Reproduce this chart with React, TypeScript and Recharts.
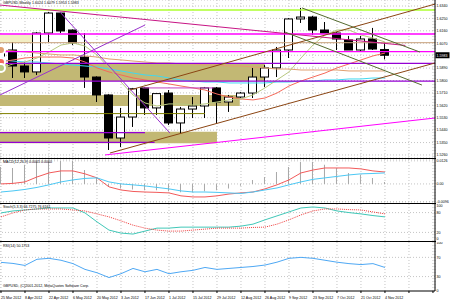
import React from 'react';
import { ComposedChart, Bar, Line, XAxis, YAxis, CartesianGrid, ReferenceLine, ReferenceArea } from 'recharts';

// weekly GBPUSD candles, one per week from 25 Mar 2012
const opens = [1.5891, 1.6021, 1.5905, 1.5862, 1.6144, 1.6289, 1.6166, 1.5970, 1.5825, 1.5695, 1.5383, 1.5535, 1.5746, 1.5601, 1.5709, 1.5492, 1.5593, 1.5615, 1.5746, 1.5644, 1.5680, 1.5709, 1.5825, 1.5891, 1.6021, 1.6246, 1.6260, 1.6166, 1.6144, 1.6094, 1.6021, 1.6101, 1.6024];
const highs = [1.6036, 1.6079, 1.5934, 1.6150, 1.6297, 1.6297, 1.6170, 1.6144, 1.5830, 1.5700, 1.5601, 1.5746, 1.5750, 1.5709, 1.5731, 1.5608, 1.5680, 1.5753, 1.5753, 1.5695, 1.5717, 1.5891, 1.5912, 1.6043, 1.6253, 1.6326, 1.6268, 1.6224, 1.6150, 1.6123, 1.6123, 1.6181, 1.6079];
const lows = [1.5876, 1.5818, 1.5818, 1.5840, 1.6079, 1.6144, 1.6057, 1.5746, 1.5644, 1.5296, 1.5318, 1.5463, 1.5550, 1.5550, 1.5477, 1.5419, 1.5528, 1.5528, 1.5492, 1.5572, 1.5673, 1.5673, 1.5753, 1.5825, 1.5963, 1.6217, 1.6130, 1.6144, 1.6021, 1.6021, 1.6007, 1.6021, 1.5953];
const closes = [1.6007, 1.5905, 1.5862, 1.6144, 1.6289, 1.6159, 1.6072, 1.5825, 1.5695, 1.5383, 1.5535, 1.5740, 1.5601, 1.5705, 1.5492, 1.5593, 1.5615, 1.5746, 1.5644, 1.5680, 1.5709, 1.5825, 1.5891, 1.6021, 1.6246, 1.6260, 1.6166, 1.6144, 1.6101, 1.6021, 1.6101, 1.6028, 1.5983];

// moving averages on the price chart
const maFast = [1.5891, 1.5920, 1.5934, 1.5963, 1.6007, 1.6057, 1.6072, 1.6050, 1.5985, 1.5891, 1.5789, 1.5695, 1.5637, 1.5615, 1.5630, 1.5630, 1.5622, 1.5630, 1.5644, 1.5659, 1.5666, 1.5695, 1.5746, 1.5804, 1.5862, 1.5963, 1.6057, 1.6130, 1.6166, 1.6166, 1.6130, 1.6108, 1.6079];
const maRed = [1.5934, 1.5949, 1.5963, 1.5970, 1.5970, 1.5970, 1.5963, 1.5934, 1.5891, 1.5862, 1.5840, 1.5818, 1.5804, 1.5789, 1.5775, 1.5760, 1.5746, 1.5731, 1.5702, 1.5680, 1.5666, 1.5659, 1.5673, 1.5709, 1.5760, 1.5796, 1.5825, 1.5854, 1.5891, 1.5920, 1.5949, 1.5978, 1.5999];
const maTan = [1.6021, 1.6014, 1.6007, 1.5999, 1.5992, 1.5985, 1.5985, 1.5978, 1.5970, 1.5956, 1.5949, 1.5941, 1.5934, 1.5927, 1.5927, 1.5920, 1.5920, 1.5912, 1.5912, 1.5905, 1.5905, 1.5898, 1.5891, 1.5883, 1.5883, 1.5876, 1.5876, 1.5876, 1.5876, 1.5869, 1.5869, 1.5869, 1.5869];
const maCyan = [1.5949, 1.5941, 1.5934, 1.5934, 1.5927, 1.5920, 1.5912, 1.5905, 1.5898, 1.5883, 1.5869, 1.5854, 1.5840, 1.5833, 1.5818, 1.5804, 1.5796, 1.5789, 1.5789, 1.5782, 1.5782, 1.5782, 1.5782, 1.5789, 1.5789, 1.5796, 1.5796, 1.5804, 1.5804, 1.5811, 1.5811, 1.5818, 1.5818];

// indicators
const macdHist = [0.0093, 0.0087, 0.0104, 0.0120, 0.0120, 0.0125, 0.0125, 0.0076, 0.0038, -0.0015, -0.0025, -0.0030, -0.0035, -0.0035, -0.0040, -0.0045, -0.0045, -0.0040, -0.0035, -0.0025, -0.0010, 0.0022, 0.0038, 0.0065, 0.0093, 0.0120, 0.0120, 0.0104, 0.0087, 0.0060, 0.0049, 0.0033, 0.0011];
const macdRed = [0.0000, 0.0003, 0.0011, 0.0038, 0.0060, 0.0071, 0.0071, 0.0055, 0.0033, -0.0016, -0.0033, -0.0041, -0.0044, -0.0046, -0.0049, -0.0065, -0.0071, -0.0071, -0.0065, -0.0055, -0.0049, -0.0044, -0.0027, -0.0005, 0.0022, 0.0060, 0.0076, 0.0087, 0.0087, 0.0087, 0.0082, 0.0071, 0.0065];
const macdCyan = [-0.0044, -0.0038, -0.0030, -0.0019, -0.0005, 0.0011, 0.0022, 0.0030, 0.0033, 0.0011, 0.0000, -0.0005, -0.0011, -0.0019, -0.0027, -0.0038, -0.0044, -0.0044, -0.0046, -0.0049, -0.0052, -0.0044, -0.0033, -0.0022, -0.0005, 0.0011, 0.0025, 0.0033, 0.0041, 0.0049, 0.0055, 0.0057, 0.0060];
const stochMain = [79, 85, 88, 91, 94, 94, 94, 79, 52, 27, 18, 15, 24, 33, 33, 36, 36, 36, 36, 36, 39, 45, 58, 70, 82, 94, 97, 94, 85, 80, 76, 71, 67];
const stochSignal = [67, 79, 88, 91, 91, 91, 88, 85, 76, 67, 55, 42, 33, 27, 24, 24, 27, 30, 33, 33, 33, 35, 36, 45, 58, 73, 85, 91, 91, 89, 88, 82, 76];
const rsi = [59.6, 57.4, 53.2, 66, 68, 64, 57, 45, 38, 28, 36, 47, 40, 45, 36, 40, 43, 49, 45, 47, 49, 51, 54, 60, 68, 70, 68, 64, 60, 57, 55, 57, 49];

const dateLabels = ['25 Mar 2012', '8 Apr 2012', '22 Apr 2012', '6 May 2012', '20 May 2012', '3 Jun 2012', '17 Jun 2012', '1 Jul 2012', '15 Jul 2012', '29 Jul 2012', '12 Aug 2012', '26 Aug 2012', '9 Sep 2012', '23 Sep 2012', '7 Oct 2012', '21 Oct 2012', '4 Nov 2012'];
const priceTicks = [1.634, 1.625, 1.616, 1.607, 1.5983, 1.589, 1.58, 1.571, 1.562, 1.553, 1.544, 1.535, 1.526];
const lastPrice = 1.5983;

// horizontal levels [price, colour, from bar, to bar, width]
const levels: [number, string, number, number, number][] = [
  [1.6311, '#adff2f', -0.1, 36.2, 1.5],
  [1.6137, '#ff00ff', -0.1, 36.2, 1.3],
  [1.6074, '#c8a07a', -0.1, 36.2, 1],
  [1.6009, '#ff00ff', -0.1, 36.2, 1.3],
  [1.5924, '#9400d3', -0.1, 36.2, 1.3],
  [1.5796, '#9400d3', -0.1, 36.2, 1.3],
  [1.5560, '#808000', -0.1, 17, 1],
  [1.5746, '#c040c0', 11.8, 17.7, 1],
  [1.5422, '#9400d3', -0.1, 12, 1.3],
  [1.5352, '#9400d3', -0.1, 12.8, 1.3],
];
// zones [from bar, to bar, top, bottom, colour]
const zones: [number, number, number, number, string][] = [
  [-0.1, 2.7, 1.6130, 1.6072, '#f3eec4'],
  [-0.1, 22, 1.5927, 1.5796, '#c2b874'],
  [-0.1, 19.9, 1.5695, 1.5615, '#c2b874'],
  [-0.1, 18, 1.5429, 1.5345, '#c2b874'],
];
// trendlines [bar1, price1, bar2, price2, colour]
const trends: [number, number, number, number, string][] = [
  [-0.08, 1.6347, 33.7, 1.6054, '#c71585'],
  [4.92, 1.6296, 14.08, 1.5419, '#9932cc'],
  [-0.08, 1.5695, 12, 1.6202, '#9932cc'],
  [9.08, 1.5274, 36.17, 1.5927, '#8b4513'],
  [10.75, 1.5731, 36.17, 1.6354, '#8b4513'],
  [8.67, 1.5260, 36.17, 1.5528, '#ff00ff'],
  [25.08, 1.6326, 34.92, 1.6006, '#556b2f'],
  [23.67, 1.6151, 35.08, 1.5767, '#556b2f'],
];

const rows = opens.map((o, i) => ({
  i, o, h: highs[i], l: lows[i], c: closes[i], range: [lows[i], highs[i]],
  fast: maFast[i], red: maRed[i], tan: maTan[i], cyan: maCyan[i],
  hist: macdHist[i], mred: macdRed[i], mcyan: macdCyan[i],
  k: stochMain[i], d: stochSignal[i], rsi: rsi[i],
}));

const xDomain = [-0.083, 36.17];
const xTicks = Array.from({ length: 19 }, (_, n) => n * 2);
const font = 'Liberation Sans';
const fs = 3.6;
const grid = <CartesianGrid stroke="#c4c4c4" strokeDasharray="1 2" />;

const Candle = (props: any) => {
  const { x, y, width, height, payload } = props;
  const { o, h, l, c } = payload;
  const k = height / (h - l || 1);
  const top = y + (h - Math.max(o, c)) * k;
  const bot = y + (h - Math.min(o, c)) * k;
  const cx = Math.round(x + width / 2) + 0.5;
  return (
    <g>
      <line x1={cx} x2={cx} y1={y} y2={y + height} stroke="#000" />
      <rect x={cx - 4} y={top} width={8} height={Math.max(bot - top, 1)} fill={c >= o ? '#fff' : '#000'} stroke="#000" />
    </g>
  );
};

const axisTick = (fmt: (v: number) => string) => (props: any) => {
  const { x, y, payload } = props;
  return <text x={x + 1.5} y={y + 1.3} fontSize={fs} fontFamily={font} fill="#000">{fmt(payload.value)}</text>;
};

const PriceTick = (props: any) => {
  const { x, y, payload } = props;
  const v = payload.value;
  if (v === lastPrice) {
    return (
      <g>
        <rect x={x + 0.5} y={y - 3} width={14} height={6} fill="#000" />
        <text x={x + 1.5} y={y + 1.3} fontSize={fs} fontFamily={font} fill="#fff">{v.toFixed(4)}</text>
      </g>
    );
  }
  return <text x={x + 1.5} y={y + 1.3} fontSize={fs} fontFamily={font} fill="#000">{v.toFixed(4)}</text>;
};

const title = (text: string, top: number) => (
  <div style={{ position: 'absolute', left: 3, top, fontSize: fs, fontFamily: font, color: '#000', whiteSpace: 'nowrap', lineHeight: '5px' }}>{text}</div>
);

const sep = (top: number) => <div style={{ position: 'absolute', left: 0, top, width: 436, height: 1, background: '#000' }} />;

const yAxisProps = { orientation: 'right' as const, width: 15, interval: 0, allowDataOverflow: true, axisLine: { stroke: '#000' }, tickLine: false, tickSize: 0, tickMargin: 0 };

export default function App() {
  const margin = { top: 0, right: 0, left: 0, bottom: 0 };
  return (
    <div style={{ position: 'absolute', left: 0, top: 0, width: 450, height: 300, background: '#fff', overflow: 'hidden' }}>
      <div style={{ position: 'absolute', top: 0, left: 0 }}>
        <ComposedChart width={450} height={158} data={rows} margin={margin}>
          {grid}
          <XAxis dataKey="i" type="number" domain={xDomain} ticks={xTicks} interval={0} allowDataOverflow hide />
          <YAxis {...yAxisProps} domain={[1.5238, 1.63835]} ticks={priceTicks} tick={PriceTick} />
          {zones.map(([x1, x2, y1, y2, col], n) => (
            <ReferenceArea key={'z' + n} x1={x1} x2={x2} y1={y1} y2={y2} fill={col} fillOpacity={1} stroke="none" ifOverflow="hidden" />
          ))}
          <Line dataKey="tan" stroke="#e0a070" dot={false} isAnimationActive={false} />
          <Line dataKey="cyan" stroke="#40d8f0" dot={false} isAnimationActive={false} />
          <Line dataKey="red" stroke="#f56a5a" dot={false} isAnimationActive={false} />
          <Line dataKey="fast" stroke="#b8c880" dot={false} isAnimationActive={false} />
          <Bar dataKey="range" barSize={9} shape={Candle} isAnimationActive={false} />
          {levels.map(([p, col, a, b, w], n) => (
            <ReferenceLine key={'l' + n} segment={[{ x: a, y: p }, { x: b, y: p }]} stroke={col} strokeWidth={w} ifOverflow="hidden" />
          ))}
          {trends.map(([a, p1, b, p2, col], n) => (
            <ReferenceLine key={'t' + n} segment={[{ x: a, y: p1 }, { x: b, y: p2 }]} stroke={col} strokeWidth={1} ifOverflow="hidden" />
          ))}
        </ComposedChart>
      </div>
      {title('GBPUSD,Weekly  1.6024 1.6079 1.5953 1.5983', 1)}
      {sep(158)}

      <div style={{ position: 'absolute', top: 159, left: 0 }}>
        <ComposedChart width={450} height={44} data={rows} margin={margin}>
          {grid}
          <XAxis dataKey="i" type="number" domain={xDomain} ticks={xTicks} interval={0} allowDataOverflow hide />
          <YAxis {...yAxisProps} domain={[-0.0104, 0.0136]} ticks={[0.0126, 0, -0.0096]} tick={axisTick((v) => (v === 0 ? '0.00' : v.toFixed(4)))} />
          <Bar dataKey="hist" barSize={1} fill="#a8a8a8" isAnimationActive={false} />
          <Line dataKey="mred" stroke="#f25a5a" dot={false} isAnimationActive={false} />
          <Line dataKey="mcyan" stroke="#4cc8f4" dot={false} isAnimationActive={false} />
        </ComposedChart>
      </div>
      {title('MACD(12,26,9) 0.0065 0.0060', 160)}
      {sep(203)}

      <div style={{ position: 'absolute', top: 204, left: 0 }}>
        <ComposedChart width={450} height={37} data={rows} margin={margin}>
          <CartesianGrid stroke="#c4c4c4" strokeDasharray="1 2" horizontal={false} />
          <XAxis dataKey="i" type="number" domain={xDomain} ticks={xTicks} interval={0} allowDataOverflow hide />
          <YAxis {...yAxisProps} domain={[-6, 106]} ticks={[100, 80, 20, 0]} tick={axisTick((v) => String(v))} />
          <ReferenceLine y={80} stroke="#c4c4c4" strokeDasharray="1 2" />
          <ReferenceLine y={20} stroke="#c4c4c4" strokeDasharray="1 2" />
          <Line dataKey="k" stroke="#40c8b8" dot={false} isAnimationActive={false} />
          <Line dataKey="d" stroke="#f04040" strokeDasharray="1 1" dot={false} isAnimationActive={false} />
        </ComposedChart>
      </div>
      {title('Stoch(5,3,3) 66.7275 76.6161', 205)}
      {sep(241)}

      <div style={{ position: 'absolute', top: 242, left: 0 }}>
        <ComposedChart width={450} height={58} data={rows} margin={margin}>
          <CartesianGrid stroke="#c4c4c4" strokeDasharray="1 2" horizontal={false} />
          <XAxis dataKey="i" type="number" domain={xDomain} ticks={xTicks} interval={0} allowDataOverflow height={9} axisLine={{ stroke: '#000' }} tickSize={2} tickLine={{ stroke: '#000' }} tick={(props: any) => {
            const lbl = dateLabels[props.payload.value / 2] || '';
            return <text x={props.x} y={props.y + 4} fontSize={fs} fontFamily={font} fill="#000">{lbl}</text>;
          }} />
          <YAxis {...yAxisProps} domain={[0, 102]} ticks={[100, 70, 30, 0]} tick={axisTick((v) => String(v))} />
          <ReferenceLine y={70} stroke="#c4c4c4" strokeDasharray="1 2" />
          <ReferenceLine y={30} stroke="#c4c4c4" strokeDasharray="1 2" />
          <Line dataKey="rsi" stroke="#4ea8f4" dot={false} isAnimationActive={false} />
        </ComposedChart>
      </div>
      {title('RSI(14) 50.1753', 244)}
      {title('GBPUSD, (C)2001-2012, MetaQuotes Software Corp.', 284)}
    </div>
  );
}
